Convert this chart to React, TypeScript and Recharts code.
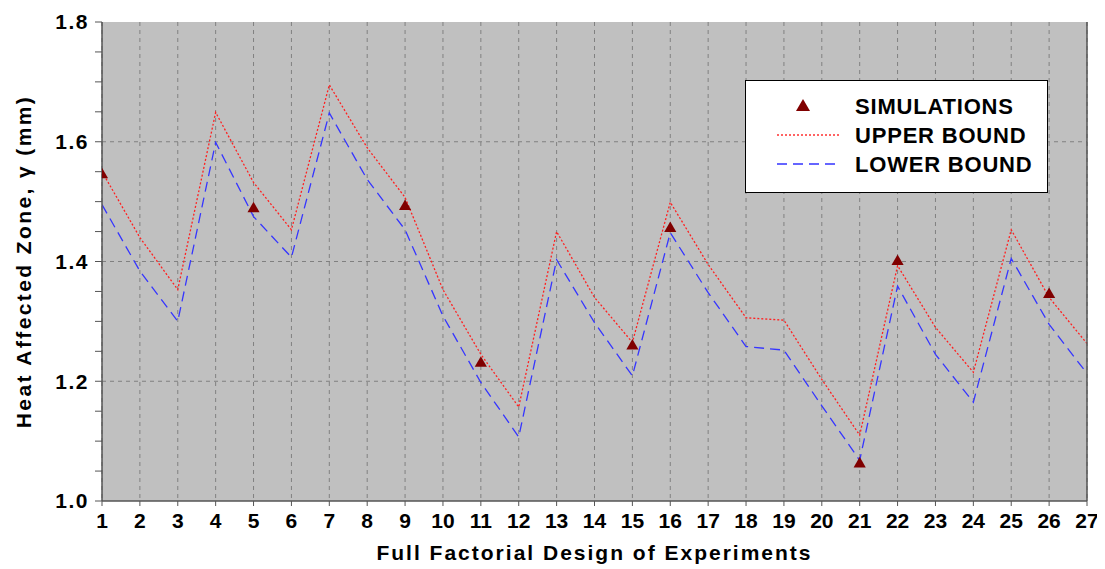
import React from 'react';
import { ComposedChart, Line, Scatter, XAxis, YAxis, CartesianGrid } from 'recharts';

const experiments = [1,2,3,4,5,6,7,8,9,10,11,12,13,14,15,16,17,18,19,20,21,22,23,24,25,26,27];
const upperBound = [1.55,1.44,1.353,1.649,1.532,1.453,1.695,1.59,1.507,1.353,1.245,1.157,1.45,1.34,1.265,1.499,1.395,1.306,1.302,1.203,1.11,1.393,1.29,1.215,1.453,1.34,1.263];
const lowerBound = [1.495,1.384,1.30,1.599,1.475,1.407,1.648,1.537,1.453,1.309,1.198,1.107,1.403,1.298,1.209,1.448,1.348,1.258,1.252,1.159,1.068,1.359,1.245,1.165,1.405,1.295,1.213];
const simX = [1,5,9,11,15,16,21,22,26];
const simY = [1.545,1.488,1.492,1.23,1.259,1.455,1.062,1.40,1.345];
const yTicks = [1.0,1.05,1.1,1.15,1.2,1.25,1.3,1.35,1.4,1.45,1.5,1.55,1.6,1.65,1.7,1.75,1.8];
const gridY = [1.2, 1.4, 1.6];

const lineData = experiments.map((x, i) => ({ x, upper: upperBound[i], lower: lowerBound[i] }));
const simData = simX.map((x, i) => ({ x, sim: simY[i] }));

const font = 'Arial, "Liberation Sans", sans-serif';
const axisStroke = '#555';

const LegendBox = () => (
  <svg width={303} height={113} style={{ display: 'block' }}>
    <rect x={0.5} y={0.5} width={302} height={112} fill="#fff" stroke="#000" strokeWidth={1} />
    <polygon points="58,19 51,31 65,31" fill="#800000" />
    <line x1={32} y1={55} x2={95} y2={55} stroke="#ff3030" strokeWidth={1.3} strokeDasharray="2 2" />
    <line x1={32} y1={84} x2={95} y2={84} stroke="#3333ff" strokeWidth={1.3} strokeDasharray="10 6" />
    <g fontFamily={font} fontWeight="bold" fontSize={22} fill="#000" letterSpacing={0.8}>
      <text x={110} y={34}>SIMULATIONS</text>
      <text x={110} y={63}>UPPER BOUND</text>
      <text x={110} y={92}>LOWER BOUND</text>
    </g>
  </svg>
);

export default function App() {
  return (
    <div style={{ marginLeft: -8, marginTop: -8, width: 1105, height: 569, background: '#fff', position: 'relative' }}>
      <ComposedChart width={1105} height={569} margin={{ top: 22, right: 0, bottom: 0, left: 0 }} data={lineData}>
        <CartesianGrid
          fill="#C0C0C0"
          stroke="#808080"
          strokeDasharray="4 4"
          horizontalValues={gridY}
          verticalValues={experiments}
        />
        <XAxis
          type="number"
          dataKey="x"
          domain={[1, 27]}
          ticks={experiments}
          interval={0}
          allowDataOverflow
          height={68}
          tickSize={5}
          tickMargin={7}
          tickLine={{ stroke: axisStroke }}
          axisLine={{ stroke: axisStroke, strokeWidth: 1.5 }}
          tick={{ fontFamily: font, fontWeight: 'bold', fontSize: 21, fill: '#000' }}
          label={{ value: 'Full Factorial Design of Experiments', position: 'insideBottom', offset: 9, style: { fontFamily: font, fontWeight: 'bold', fontSize: 21, letterSpacing: 2, fill: '#000' } }}
        />
        <XAxis
          xAxisId="t"
          orientation="top"
          type="number"
          dataKey="x"
          domain={[1, 27]}
          ticks={experiments}
          interval={0}
          allowDataOverflow
          height={0}
          tickSize={5}
          tick={false}
          tickLine={{ stroke: axisStroke }}
          axisLine={{ stroke: axisStroke, strokeWidth: 1.5 }}
        />
        <YAxis
          type="number"
          domain={[1.0, 1.8]}
          ticks={yTicks}
          interval={0}
          width={102}
          tickSize={7}
          tickMargin={6}
          tickLine={{ stroke: axisStroke }}
          axisLine={{ stroke: axisStroke, strokeWidth: 1.5 }}
          tickFormatter={(v: number) => (Math.round(v * 100) % 20 === 0 ? v.toFixed(1) : '')}
          tick={{ fontFamily: font, fontWeight: 'bold', fontSize: 21, letterSpacing: 1.5, fill: '#000' }}
          label={{ value: 'Heat Affected Zone, γ (mm)', angle: -90, position: 'insideLeft', offset: 24, style: { fontFamily: font, fontWeight: 'bold', fontSize: 21, letterSpacing: 2.4, fill: '#000', textAnchor: 'middle' } }}
        />
        <YAxis
          yAxisId="r"
          orientation="right"
          type="number"
          domain={[1.0, 1.8]}
          ticks={yTicks}
          interval={0}
          width={18}
          tickSize={6}
          tickLine={{ stroke: axisStroke }}
          axisLine={{ stroke: axisStroke, strokeWidth: 1.5 }}
          tick={false}
        />
        <Line dataKey="upper" stroke="#ff2020" strokeWidth={1.3} strokeDasharray="2 2" dot={false} isAnimationActive={false} />
        <Line dataKey="lower" stroke="#3535ff" strokeWidth={1.3} strokeDasharray="10 6" dot={false} isAnimationActive={false} />
        <Scatter data={simData} dataKey="sim" fill="#800000" shape="triangle" size={95} isAnimationActive={false} />
      </ComposedChart>
      <div style={{ position: 'absolute', left: 745, top: 80 }}>
        <LegendBox />
      </div>
    </div>
  );
}
